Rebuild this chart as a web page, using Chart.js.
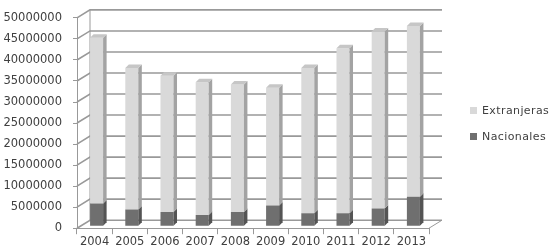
<!DOCTYPE html>
<html>
<head>
<meta charset="utf-8">
<script src="https://cdn.jsdelivr.net/npm/chart.js@4/dist/chart.umd.min.js"></script>
<style>
  html, body { margin: 0; padding: 0; background: #ffffff; }
  #wrap { position: relative; width: 550px; height: 250px; }
  canvas { position: absolute; left: 0; top: 0; }
  .leg { position: absolute; left: 470px; font-family: "DejaVu Sans", sans-serif; font-size: 11px; color: #404040; letter-spacing: 0.4px; line-height: 14px; white-space: nowrap; }
  .leg span.box { display: inline-block; width: 7px; height: 7px; margin-right: 5px; vertical-align: 0px; }
</style>
</head>
<body>
<div id="wrap">
  <canvas id="c" width="550" height="250"></canvas>
  <div class="leg" style="top:104px"><span class="box" style="background:#d9d9d9"></span>Extranjeras</div>
  <div class="leg" style="top:130px"><span class="box" style="background:#6f6f6f"></span>Nacionales</div>
</div>
<script>
const years = ['2004','2005','2006','2007','2008','2009','2010','2011','2012','2013'];
const nacionales = [5400000, 4000000, 3350000, 2650000, 3350000, 4900000, 3050000, 3050000, 4200000, 7000000];
const extranjeras = [39400000, 33600000, 32450000, 31550000, 30350000, 28000000, 34550000, 39250000, 42100000, 40600000];
const yMax = 50000000;
const yStep = 5000000;

const GRID = '#999999';
const DX = 13, DY = 8;      // back-wall depth
const BD = 3.5;             // bar depth
const SHIFT = 2;            // bars sit slightly behind front plane

const boxPlugin = {
  id: 'box3d',
  beforeDatasetsDraw(chart) {
    const ctx = chart.ctx;
    const a = chart.chartArea;
    const ys = chart.scales.y;
    ctx.save();
    ctx.strokeStyle = GRID;
    ctx.lineWidth = 1.6;
    ctx.lineJoin = 'miter';
    ys.ticks.forEach((t, i) => {
      const py = ys.getPixelForTick(i);
      ctx.beginPath();
      ctx.moveTo(a.left, py);
      ctx.lineTo(a.left + DX, py - DY);
      ctx.lineTo(a.right + DX, py - DY);
      ctx.stroke();
    });
    ctx.lineWidth = 1;
    ctx.beginPath();
    ctx.moveTo(a.left + DX, a.top - DY);
    ctx.lineTo(a.left + DX, a.bottom - DY);
    ctx.stroke();
    ctx.beginPath();
    ctx.moveTo(a.right, a.bottom);
    ctx.lineTo(a.right + DX, a.bottom - DY);
    ctx.stroke();
    ctx.restore();
    ctx.save();
    ctx.translate(SHIFT, -SHIFT);
  },
  afterDatasetsDraw(chart) {
    const ctx = chart.ctx;
    const sideCols = ['#545454', '#a3a3a3'];
    const topCols = ['#6a6a6a', '#c6c6c6'];
    const n = chart.data.datasets.length;
    chart.data.datasets.forEach((ds, di) => {
      const meta = chart.getDatasetMeta(di);
      meta.data.forEach(el => {
        const p = el.getProps(['x', 'y', 'base', 'width'], true);
        const l = p.x - p.width / 2, r = p.x + p.width / 2;
        const top = Math.min(p.y, p.base), bot = Math.max(p.y, p.base);
        ctx.fillStyle = sideCols[di];
        ctx.beginPath();
        ctx.moveTo(r, top);
        ctx.lineTo(r + BD, top - BD);
        ctx.lineTo(r + BD, bot - BD);
        ctx.lineTo(r, bot);
        ctx.closePath();
        ctx.fill();
        if (di === n - 1) {
          ctx.fillStyle = topCols[di];
          ctx.beginPath();
          ctx.moveTo(l, top);
          ctx.lineTo(l + BD, top - BD);
          ctx.lineTo(r + BD, top - BD);
          ctx.lineTo(r, top);
          ctx.closePath();
          ctx.fill();
        }
      });
    });
    ctx.restore();
  }
};

new Chart(document.getElementById('c'), {
  type: 'bar',
  data: {
    labels: years,
    datasets: [
      { label: 'Nacionales', data: nacionales, backgroundColor: '#6f6f6f', borderWidth: 0 },
      { label: 'Extranjeras', data: extranjeras, backgroundColor: '#d9d9d9', borderWidth: 0 }
    ]
  },
  options: {
    responsive: false,
    devicePixelRatio: 1,
    animation: false,
    layout: { padding: { left: 0, right: 121, top: 4, bottom: 0 } },
    plugins: { legend: { display: false }, tooltip: { enabled: false } },
    datasets: { bar: { categoryPercentage: 1, barPercentage: 0.37 } },
    scales: {
      x: {
        stacked: true,
        offset: true,
        grid: { display: true, drawOnChartArea: false, offset: true, tickLength: 6, color: GRID },
        border: { display: true, color: GRID },
        ticks: { padding: 1, color: '#404040', font: { family: 'DejaVu Sans', size: 11.5 }, maxRotation: 0 }
      },
      y: {
        stacked: true,
        min: 0,
        max: yMax,
        grid: { display: true, drawOnChartArea: false, tickLength: 4, color: GRID },
        border: { display: true, color: GRID },
        ticks: { stepSize: yStep, padding: 11, color: '#404040', font: { family: 'DejaVu Sans', size: 11.5 },
                 callback: v => String(v) },
        afterFit(s) { s.width = 77; }
      }
    }
  },
  plugins: [boxPlugin]
});
</script>
</body>
</html>
